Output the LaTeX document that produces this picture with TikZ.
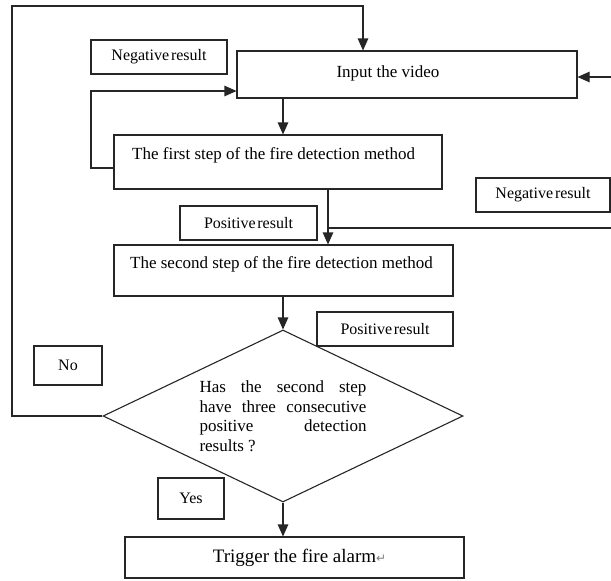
\documentclass[tikz,border=0pt]{standalone}
\usepackage{fontspec}
\setmainfont{Liberation Serif}
\newfontfamily\lblfont[WordSpace=0.45]{Liberation Serif}
\newfontfamily\retglyphfont{DejaVu Sans}
\usetikzlibrary{arrows.meta,shapes.geometric,calc}
\hbadness=10000
\begin{document}
\begin{tikzpicture}[x=1pt,y=-1pt,
  box/.style={draw=black!85, line width=1.1pt, rectangle, inner sep=0pt},
  lbl/.style={box, font=\lblfont\fontsize{16}{19}\selectfont},
  txt/.style={font=\fontsize{17}{20}\selectfont, inner sep=0pt},
  arr/.style={draw=black!85, line width=1.1pt, -{Triangle[length=12pt,width=10.5pt]}},
  ln/.style={draw=black!85, line width=1.1pt}]
\useasboundingbox (0,0) rectangle (611,581);

% main boxes
\node[box, minimum width=340pt, minimum height=47pt] (inp) at (407,74.5) {};
\node[txt] (inpt) at (388,73) {Input the video};
\node[box, minimum width=328pt, minimum height=54pt] (s1) at (278,162) {};
\node[txt, anchor=west] (s1t) at (132,155) {The first step of the fire detection method};
\node[box, minimum width=339pt, minimum height=51pt] (s2) at (283.5,270.5) {};
\node[txt, anchor=west] (s2t) at (130,264) {The second step of the fire detection method};
\node[diamond, draw=black!85, line width=1.1pt, shape aspect=2.1, minimum width=360pt, minimum height=172pt, inner sep=0pt] (dia) at (283,416)
  {\parbox{167pt}{\fontsize{17}{19.5}\selectfont Has the second step\linebreak have three consecutive\linebreak positive detection\linebreak results ?}};
\node[box, minimum width=339pt, minimum height=41pt, font=\fontsize{19}{22}\selectfont] (trig) at (294.5,557.5)
  {Trigger the fire alarm\rlap{\retglyphfont\fontsize{12}{12}\selectfont\color{gray}↵}};

% label boxes
\node[lbl, minimum width=136pt, minimum height=34pt] (neg1) at (159,57) {Negative result};
\node[lbl, minimum width=134pt, minimum height=34pt] (neg2) at (543,195) {Negative result};
\node[lbl, minimum width=137pt, minimum height=34pt] (pos1) at (248.5,223) {Positive result};
\node[lbl, minimum width=136pt, minimum height=34pt] (pos2) at (385,329) {Positive result};
\node[lbl, minimum width=68pt, minimum height=39pt] (no) at (68,365.5) {No};
\node[lbl, minimum width=66pt, minimum height=41pt] (yes) at (191,498.5) {Yes};

% helper coordinates
\coordinate (tl) at (12,6);
\coordinate (tr) at (363,6);
\coordinate (re) at (611,77);
\coordinate (la) at (91,168);
\coordinate (lb) at (91,91);
\coordinate (ax) at (283,0);
\coordinate (bx) at (328,0);
\coordinate (rr) at (611,228);

% connectors
\draw[arr] (dia.west) -| (tl) -- (tr) -- (tr |- inp.north);
\draw[arr] (re) -- (re -| inp.east);
\draw[arr] (la -| s1.west) -- (la) -- (lb) -- (lb -| inp.west);
\draw[arr] (ax |- inp.south) -- (ax |- s1.north);
\draw[arr] (bx |- s1.south) -- (bx |- s2.north);
\draw[ln] (rr) -- (rr -| bx);
\draw[arr] (ax |- s2.south) -- (dia.north);
\draw[arr] (dia.south) -- (dia.south |- trig.north);
\end{tikzpicture}
\end{document}
